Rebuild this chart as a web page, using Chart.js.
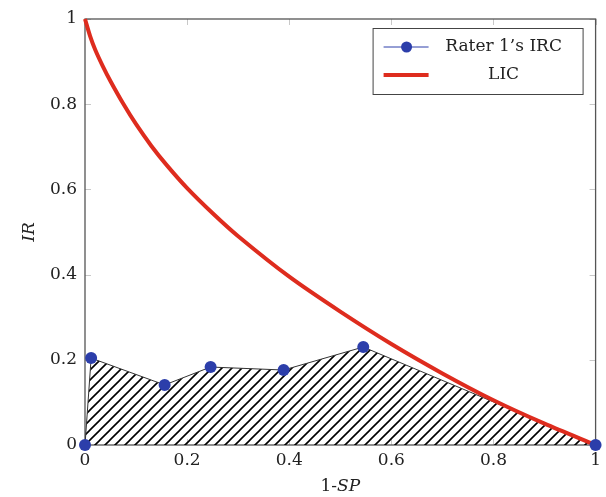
<!DOCTYPE html>
<html lang="en">
  <head>
    <meta charset="UTF-8" />
    <title>IRC vs LIC</title>
    <style>
      html, body { margin: 0; padding: 0; background: #fff; }
      #wrap { width: 606px; height: 497px; }
    </style>
  </head>
  <body>
    <div id="wrap"><canvas id="myChart" width="606" height="497"></canvas></div>

    <script src="https://cdn.jsdelivr.net/npm/chart.js"></script>
    <script>
      // Rater 1's IRC points (1-SP, IR)
      const ircX = [0, 0.012, 0.156, 0.246, 0.389, 0.545, 1];
      const ircY = [0, 0.204, 0.141, 0.183, 0.176, 0.230, 0];

      // LIC curve
      const licX = [0, 0.01, 0.02, 0.035, 0.05, 0.075, 0.1, 0.13, 0.16, 0.2, 0.25, 0.3, 0.4, 0.5, 0.6, 0.7, 0.8, 0.9, 1];
      const licY = [1, 0.96, 0.928, 0.889, 0.854, 0.801, 0.753, 0.702, 0.657, 0.603, 0.544, 0.49, 0.395, 0.313, 0.237, 0.168, 0.105, 0.05, 0];

      const tickVals = [0, 0.2, 0.4, 0.6, 0.8, 1];
      const legendLabels = ["Rater 1\u2019s IRC", "LIC"];

      const blue = "rgb(44, 62, 170)";
      const red = "rgb(222, 44, 30)";
      const serif = "'DejaVu Serif', 'Liberation Serif', serif";
      const fsize = 17;

      function toPoints(xs, ys) {
        return xs.map((x, i) => ({ x: x, y: ys[i] }));
      }

      // diagonal hatch pattern
      function makeHatch() {
        const s = 10;
        const c = document.createElement("canvas");
        c.width = s;
        c.height = s;
        const g = c.getContext("2d");
        g.strokeStyle = "#000";
        g.lineWidth = 1.6;
        g.beginPath();
        g.moveTo(-1, s + 1);
        g.lineTo(s + 1, -1);
        g.moveTo(-1, 1);
        g.lineTo(1, -1);
        g.moveTo(s - 1, s + 1);
        g.lineTo(s + 1, s - 1);
        g.stroke();
        return document.getElementById("myChart").getContext("2d").createPattern(c, "repeat");
      }

      const decor = {
        id: "decor",
        beforeDatasetsDraw(chart) {
          const ctx = chart.ctx;
          const a = chart.chartArea;
          const xs = chart.scales.x;
          const ys = chart.scales.y;
          ctx.save();
          // small inward ticks on all sides
          ctx.strokeStyle = "#c8c8c8";
          ctx.lineWidth = 1;
          ctx.beginPath();
          tickVals.forEach((v) => {
            const px = Math.round(xs.getPixelForValue(v)) + 0.5;
            const py = Math.round(ys.getPixelForValue(v)) + 0.5;
            ctx.moveTo(px, a.bottom);
            ctx.lineTo(px, a.bottom - 6);
            ctx.moveTo(px, a.top);
            ctx.lineTo(px, a.top + 6);
            ctx.moveTo(a.left, py);
            ctx.lineTo(a.left + 6, py);
            ctx.moveTo(a.right, py);
            ctx.lineTo(a.right - 6, py);
          });
          ctx.stroke();
          // frame
          ctx.strokeStyle = "#555";
          ctx.lineWidth = 1.3;
          ctx.strokeRect(a.left, a.top, a.right - a.left, a.bottom - a.top);
          ctx.restore();
        },
        afterDraw(chart) {
          const ctx = chart.ctx;
          const a = chart.chartArea;
          ctx.save();

          // legend
          const bx = a.right - 223, by = a.top + 9, bw = 210, bh = 66;
          ctx.fillStyle = "#fff";
          ctx.fillRect(bx, by, bw, bh);
          ctx.strokeStyle = "#444";
          ctx.lineWidth = 1;
          ctx.strokeRect(bx + 0.5, by + 0.5, bw, bh);

          const r1 = by + 19, r2 = by + 47;
          ctx.strokeStyle = blue;
          ctx.lineWidth = 1;
          ctx.beginPath();
          ctx.moveTo(bx + 11, r1);
          ctx.lineTo(bx + 56, r1);
          ctx.stroke();
          ctx.fillStyle = blue;
          ctx.beginPath();
          ctx.arc(bx + 34, r1, 5.5, 0, Math.PI * 2);
          ctx.fill();

          ctx.strokeStyle = red;
          ctx.lineWidth = 4;
          ctx.beginPath();
          ctx.moveTo(bx + 11, r2);
          ctx.lineTo(bx + 56, r2);
          ctx.stroke();

          ctx.fillStyle = "#222";
          ctx.font = fsize + "px " + serif;
          ctx.textBaseline = "middle";
          ctx.textAlign = "center";
          ctx.fillText(legendLabels[0], bx + 131, r1);
          ctx.fillText(legendLabels[1], bx + 131, r2);

          // axis titles (mixed upright / italic)
          ctx.textAlign = "left";
          const t1 = "1-", t2 = "SP";
          ctx.font = fsize + "px " + serif;
          const w1 = ctx.measureText(t1).width;
          ctx.font = "italic " + fsize + "px " + serif;
          const w2 = ctx.measureText(t2).width;
          const cx = (a.left + a.right) / 2;
          const sx = cx - (w1 + w2) / 2;
          ctx.font = fsize + "px " + serif;
          ctx.fillText(t1, sx, 487);
          ctx.font = "italic " + fsize + "px " + serif;
          ctx.fillText(t2, sx + w1, 487);

          ctx.translate(30, (a.top + a.bottom) / 2);
          ctx.rotate(-Math.PI / 2);
          ctx.textAlign = "center";
          ctx.fillText("IR", 0, 0);
          ctx.restore();
        },
      };

      const tickFmt = (v) => String(Math.round(v * 10) / 10);

      const ircPts = toPoints(ircX, ircY);
      const ctx = document.getElementById("myChart").getContext("2d");
      const chart = new Chart(ctx, {
        type: "scatter",
        data: {
          datasets: [
            {
              label: legendLabels[0],
              data: ircPts,
              showLine: true,
              borderColor: "#333",
              borderWidth: 1,
              backgroundColor: makeHatch(),
              fill: "origin",
              pointRadius: 0,
              tension: 0,
              order: 3,
            },
            {
              label: legendLabels[1],
              data: toPoints(licX, licY),
              showLine: true,
              borderColor: red,
              borderWidth: 4,
              pointRadius: 0,
              fill: false,
              tension: 0.3,
              clip: false,
              order: 2,
            },
            {
              label: "markers",
              data: ircPts,
              showLine: false,
              pointRadius: 6,
              pointBackgroundColor: blue,
              pointBorderWidth: 0,
              clip: false,
              order: 1,
            },
          ],
        },
        options: {
          responsive: false,
          animation: false,
          layout: { padding: { top: 19, right: 9, left: 0, bottom: 0 } },
          plugins: { legend: { display: false }, tooltip: { enabled: false } },
          scales: {
            x: {
              type: "linear",
              min: 0,
              max: 1,
              afterFit: (s) => { s.height = 52; },
              afterBuildTicks: (s) => { s.ticks = tickVals.map((v) => ({ value: v })); },
              grid: { display: false, drawTicks: false },
              border: { display: false },
              ticks: { padding: 5, color: "#222", font: { family: serif, size: fsize }, callback: tickFmt },
            },
            y: {
              type: "linear",
              min: 0,
              max: 1,
              afterFit: (s) => { s.width = 85; },
              afterBuildTicks: (s) => { s.ticks = tickVals.map((v) => ({ value: v })); },
              grid: { display: false, drawTicks: false },
              border: { display: false },
              ticks: { padding: 8, color: "#222", font: { family: serif, size: fsize }, callback: tickFmt },
            },
          },
        },
        plugins: [decor],
      });
    </script>
  </body>
</html>
